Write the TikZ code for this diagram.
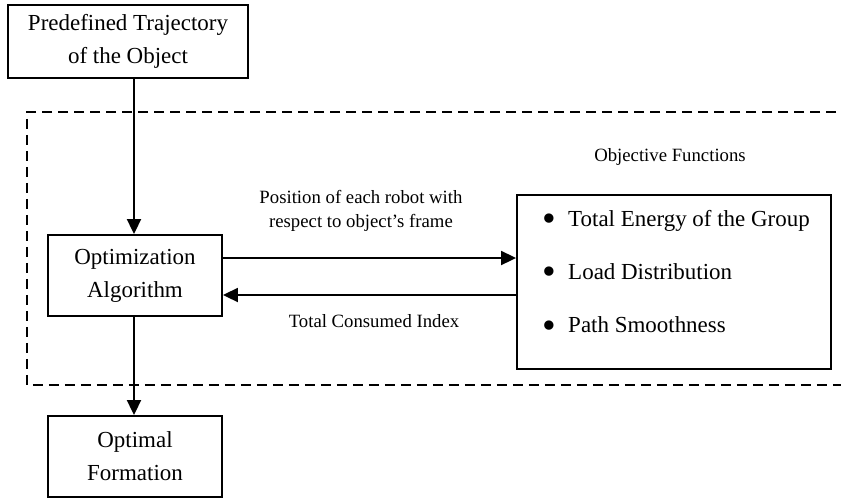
\documentclass[tikz,border=0pt]{standalone}
\usepackage{fontspec}
\setmainfont{Liberation Serif}
\usetikzlibrary{arrows.meta, positioning, calc}

\newcommand{\marca}{\makebox[0.77cm][l]{\raisebox{-0.22em}{\scalebox{1.7}{\textbullet}}}}

\begin{document}
\begin{tikzpicture}[
    bloco/.style={
        draw,
        line width=1.6pt,
        align=center,
        inner sep=0pt,
        font=\fontsize{19.6}{28.2}\selectfont
    },
    seta/.style={
        -{Triangle[length=0.45cm,width=0.42cm]},
        line width=1.6pt
    },
    rotulo/.style={
        align=center,
        font=\fontsize{16}{20.5}\selectfont
    },
    regiao/.style={
        dash pattern=on 0.3cm off 0.18cm,
        line width=1.3pt
    }
]

\useasboundingbox (0,0) rectangle (25.23,-14.94);

% Regiao tracejada
\draw[regiao] (27,-3.36) -- (0.81,-3.36) -- (0.81,-11.55) -- (27,-11.55);

% Trajetoria
\node[bloco, minimum width=7.2cm, minimum height=2.19cm] (traj) at (3.84,-1.245)
{
    Predefined Trajectory\\
    of the Object
};

% Otimizacao
\node[bloco, minimum width=5.22cm, minimum height=2.43cm] (otim) at (4.05,-8.265)
{
    Optimization\\
    Algorithm
};

% Formacao
\node[bloco, minimum width=5.22cm, minimum height=2.43cm] (form) at (4.05,-13.695)
{
    Optimal\\
    Formation
};

% Funcoes objetivo
\node[bloco, minimum width=9.42cm, minimum height=5.22cm] (obj) at (20.22,-8.46) {};
\node[anchor=west, align=left, inner sep=0pt,
      font=\fontsize{19.6}{45.6}\selectfont] (itens) at (16.27,-8.22)
{
    \marca Total Energy of the Group\\
    \marca Load Distribution\\
    \marca Path Smoothness
};
\node[rotulo] (titulo) at (20.1,-4.71) {Objective Functions};

% Setas
\coordinate (eixo) at (4.02,0);
\draw[seta] (traj.south -| eixo) -- (otim.north -| eixo);
\draw[seta] (otim.south -| eixo) -- (form.north -| eixo);

\draw[seta] ([yshift=0.525cm]otim.east) -- ([yshift=0.525cm]otim.east -| obj.west);
\draw[seta] ([yshift=-0.585cm]otim.east -| obj.west) -- ([yshift=-0.585cm]otim.east);

% Rotulos
\node[rotulo] (posicao) at (10.83,-6.33)
{
    Position of each robot with\\
    respect to object’s frame
};
\node[rotulo] (indice) at (11.22,-9.63) {Total Consumed Index};

\end{tikzpicture}
\end{document}
